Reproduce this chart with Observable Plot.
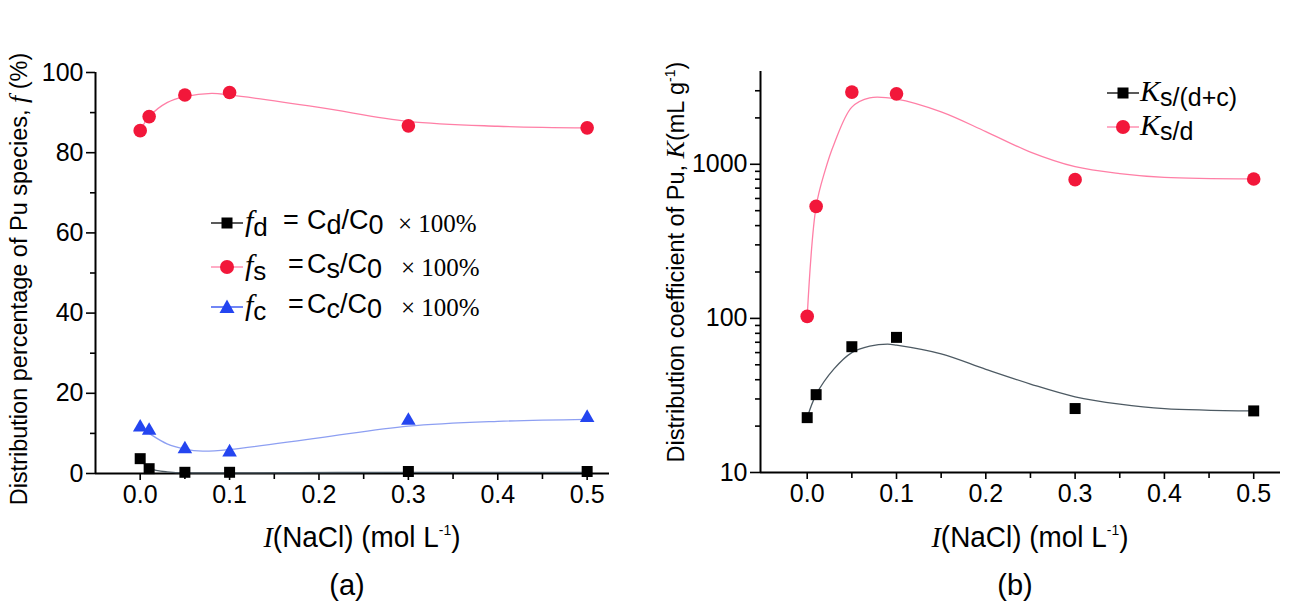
<!DOCTYPE html>
<html><head><meta charset="utf-8">
<script src="https://cdn.jsdelivr.net/npm/d3@7"></script>
<script src="https://cdn.jsdelivr.net/npm/@observablehq/plot@0.6"></script>
<style>
body{margin:0;background:#fff;}
#wrap{position:relative;width:1301px;height:611px;overflow:hidden;background:#fff;font-family:"Liberation Sans",Arial,sans-serif;color:#000;}
.pane{position:absolute;top:0;}
.lbl{position:absolute;white-space:nowrap;line-height:1;}
.serif{font-family:"Liberation Serif","Times New Roman",serif;}
.lo{position:relative;top:5px;}
.sw{position:absolute;}
</style></head><body><div id="wrap">
<div id="left" class="pane" style="left:0"></div>
<div id="right" class="pane" style="left:650px"></div>
</div>
<script>
// ---- data ----
const ionic = [0, 0.01, 0.05, 0.1, 0.3, 0.5];          // I(NaCl), mol/L
const fD = [3.7, 1.2, 0.3, 0.3, 0.5, 0.5];              // f_d (%)
const fS = [85.5, 89.0, 94.4, 95.0, 86.7, 86.2];        // f_s (%)
const fC = [11.5, 10.7, 6.1, 5.3, 13.2, 13.9];          // f_c (%)
const kSDC = [22.7, 32, 65.5, 75.3, 26, 25.1];          // K s/(d+c)
const kSD = [103, 533, 2940, 2865, 795, 803];           // K s/d

// fitted curves as drawn in the figure
const fitXfS = [0, 0.01, 0.03, 0.05, 0.08, 0.1, 0.2, 0.3, 0.4, 0.5];
const fitFS  = [85.5, 89, 92.5, 94, 94.8, 94.4, 91.3, 87.8, 86.6, 86.2];
const fitXfC = [0, 0.01, 0.03, 0.05, 0.07, 0.1, 0.2, 0.3, 0.4, 0.5];
const fitFC  = [11.5, 10, 7.4, 6.1, 5.6, 6.0, 8.9, 11.8, 13.0, 13.5];
const fitXfD = [0, 0.01, 0.03, 0.05, 0.1, 0.3, 0.5];
const fitFD  = [3.7, 1.3, 0.4, 0.15, 0.15, 0.3, 0.3];
const fitXkSD = [0, 0.01, 0.02, 0.03, 0.05, 0.07, 0.1, 0.15, 0.2, 0.25, 0.3, 0.35, 0.4, 0.5];
const fitKSD  = [103, 533, 910, 1350, 2350, 2700, 2650, 2190, 1630, 1200, 965, 870, 822, 803];
const fitXkSDC = [0, 0.01, 0.03, 0.05, 0.07, 0.09, 0.1, 0.15, 0.2, 0.25, 0.3, 0.35, 0.4, 0.5];
const fitKSDC  = [22.7, 32, 47, 60, 66, 68, 67, 58.8, 46.7, 37.5, 31, 27.8, 26, 25.1];

// ticks
const xTicks = [0, 0.1, 0.2, 0.3, 0.4, 0.5];
const xMinor = [0.05, 0.15, 0.25, 0.35, 0.45];
const yTicksL = [0, 20, 40, 60, 80, 100];
const yMinorL = [10, 30, 50, 70, 90];
const yTicksR = [10, 100, 1000];
const yMinorR = [20, 30, 40, 50, 60, 70, 80, 90, 200, 300, 400, 500, 600, 700, 800, 900, 2000, 3000];

const pts = (xs, ys) => xs.map((x, i) => ({x, y: ys[i]}));
const RED = "#f2173a", PINK = "#ff7fa6", BLUE = "#2445f0", LBLUE = "#8d9ff2", LINEK = "#4d5a63";
const fmtX = d3.format(".1f");
const FS = 25;

function axes(xDom, yDom, yTicks, yMinor, ySize) {
  return [
    Plot.axisX({ticks: xTicks, tickSize: 7, tickPadding: 5, tickFormat: fmtX, label: null, strokeWidth: 1.6, fontSize: FS}),
    Plot.axisX({ticks: xMinor, tickSize: 6, tickFormat: null, text: null, label: null, strokeWidth: 1.6}),
    Plot.axisY({ticks: yTicks, tickSize: ySize, tickPadding: 3, tickFormat: d => String(d), label: null, strokeWidth: 1.6, fontSize: FS}),
    Plot.axisY({ticks: yMinor, tickSize: 5, text: null, label: null, strokeWidth: 1.6}),
    Plot.ruleX([xDom[0]], {stroke: "#000", strokeWidth: 2}),
    Plot.ruleY([yDom[0]], {stroke: "#000", strokeWidth: 2})
  ];
}

const xDomL = [-0.05, 0.525], yDomL = [0, 100];
const left = Plot.plot({
  width: 650, height: 611, marginLeft: 95, marginRight: 41, marginTop: 72, marginBottom: 138,
  x: {domain: xDomL}, y: {domain: yDomL},
  style: {fontFamily: "'Liberation Sans', Arial, sans-serif", fontSize: "25px", color: "#000", background: "transparent"},
  marks: [
    ...axes(xDomL, yDomL, yTicksL, yMinorL, 9),
    Plot.line(pts(fitXfS, fitFS), {x: "x", y: "y", stroke: PINK, strokeWidth: 1.3, curve: "catmull-rom"}),
    Plot.line(pts(fitXfC, fitFC), {x: "x", y: "y", stroke: LBLUE, strokeWidth: 1.3, curve: "catmull-rom"}),
    Plot.line(pts(fitXfD, fitFD), {x: "x", y: "y", stroke: LINEK, strokeWidth: 1.3, curve: "monotone-x"}),
    Plot.dot(pts(ionic, fS), {x: "x", y: "y", symbol: "circle", r: 6.8, fill: RED, stroke: "none"}),
    Plot.dot(pts(ionic, fC), {x: "x", y: "y", symbol: "triangle", r: 5.4, fill: BLUE, stroke: "none"}),
    Plot.dot(pts(ionic, fD), {x: "x", y: "y", symbol: "square", r: 6.2, fill: "#000", stroke: "none"})
  ]
});
document.getElementById("left").appendChild(left);

const xDomR = [-0.0523, 0.53], yDomR = [10, 4000];
const right = Plot.plot({
  width: 651, height: 611, marginLeft: 110, marginRight: 21, marginTop: 71, marginBottom: 139,
  x: {domain: xDomR}, y: {type: "log", domain: yDomR},
  style: {fontFamily: "'Liberation Sans', Arial, sans-serif", fontSize: "25px", color: "#000", background: "transparent"},
  marks: [
    ...axes(xDomR, yDomR, yTicksR, yMinorR, 10),
    Plot.line(pts(fitXkSD, fitKSD), {x: "x", y: "y", stroke: PINK, strokeWidth: 1.3, curve: "catmull-rom"}),
    Plot.line(pts(fitXkSDC, fitKSDC), {x: "x", y: "y", stroke: LINEK, strokeWidth: 1.3, curve: "catmull-rom"}),
    Plot.dot(pts(ionic, kSD), {x: "x", y: "y", symbol: "circle", r: 6.8, fill: RED, stroke: "none"}),
    Plot.dot(pts(ionic, kSDC), {x: "x", y: "y", symbol: "square", r: 6.2, fill: "#000", stroke: "none"})
  ]
});
document.getElementById("right").appendChild(right);

// ---- text & legends (HTML overlay) ----
const wrap = document.getElementById("wrap");
function label(html, css) {
  const d = document.createElement("div");
  d.className = "lbl";
  d.innerHTML = html;
  Object.assign(d.style, css);
  wrap.appendChild(d);
  return d;
}
function swatch(xc, yc, color, lineColor, shape) {
  const ns = "http://www.w3.org/2000/svg";
  const s = document.createElementNS(ns, "svg");
  s.setAttribute("width", 34); s.setAttribute("height", 20);
  s.setAttribute("class", "sw");
  s.style.left = (xc - 17) + "px"; s.style.top = (yc - 10) + "px";
  let shp;
  if (shape === "circle") shp = `<circle cx="17" cy="10" r="7" fill="${color}"/>`;
  else if (shape === "square") shp = `<rect x="11.5" y="4.5" width="11" height="11" fill="${color}"/>`;
  else shp = `<path d="M17,2.5 L24.5,16 L9.5,16 Z" fill="${color}"/>`;
  s.innerHTML = `<line x1="1" x2="33" y1="10" y2="10" stroke="${lineColor}" stroke-width="1.3"/>` + shp;
  wrap.appendChild(s);
}

// axis titles
label('Distribution percentage of Pu species, <i class="serif" style="font-size:26px">f</i> (%)',
  {left: "19px", top: "279px", fontSize: "23.5px", transform: "translate(-50%,-50%) rotate(-90deg)"});
label('Distribution coefficient of Pu, <i class="serif" style="font-size:26px">K</i>(mL g<sup style="font-size:14px">-1</sup>)',
  {left: "676px", top: "262px", fontSize: "23.5px", transform: "translate(-50%,-50%) rotate(-90deg)"});
const xt = '<i class="serif">I</i>(NaCl) (mol L<sup style="font-size:15px;vertical-align:12px">-1</sup>)';
label(xt, {left: "362px", top: "537px", fontSize: "30px", transform: "translate(-50%,-50%) scaleX(0.93)"});
label(xt, {left: "1030px", top: "537px", fontSize: "30px", transform: "translate(-50%,-50%) scaleX(0.93)"});
label('(a)', {left: "347px", top: "585px", fontSize: "29px", transform: "translate(-50%,-50%)"});
label('(b)', {left: "1015px", top: "585px", fontSize: "29px", transform: "translate(-50%,-50%)"});

// left legend
const legRows = [
  {y: 223, sub: "d", color: "#000", line: "#000", shape: "square", eq: 283, c: 307, x: 398},
  {y: 267, sub: "s", color: RED, line: PINK, shape: "circle", eq: 288, c: 307, x: 401},
  {y: 307, sub: "c", color: BLUE, line: BLUE, shape: "triangle", eq: 288, c: 307, x: 401}
];
legRows.forEach(r => {
  swatch(227, r.y, r.color, r.line, r.shape);
  label(`<i class="serif" style="font-size:30px">f</i><span class="lo" style="font-size:26px">${r.sub}</span>`,
    {left: "245px", top: (r.y - 17) + "px"});
  label('=', {left: r.eq + "px", top: (r.y - 16) + "px", fontSize: "27px"});
  label(`C<span class="lo">${r.sub}</span>/C<span class="lo">0</span>`, {left: r.c + "px", top: (r.y - 16) + "px", fontSize: "27px"});
  label('× 100%', {left: r.x + "px", top: (r.y - 12) + "px", fontSize: "25px", fontFamily: "'Liberation Serif','Times New Roman',serif"});
});

// right legend
[{y: 93, sub: "s/(d+c)", color: "#000", line: "#000", shape: "square"},
 {y: 127, sub: "s/d", color: RED, line: PINK, shape: "circle"}].forEach(r => {
  swatch(1123, r.y, r.color, r.line, r.shape);
  label(`<i class="serif" style="font-size:30px">K</i><span class="lo" style="font-size:25px">${r.sub}</span>`,
    {left: "1140px", top: (r.y - 17) + "px"});
});
</script>
</body></html>
